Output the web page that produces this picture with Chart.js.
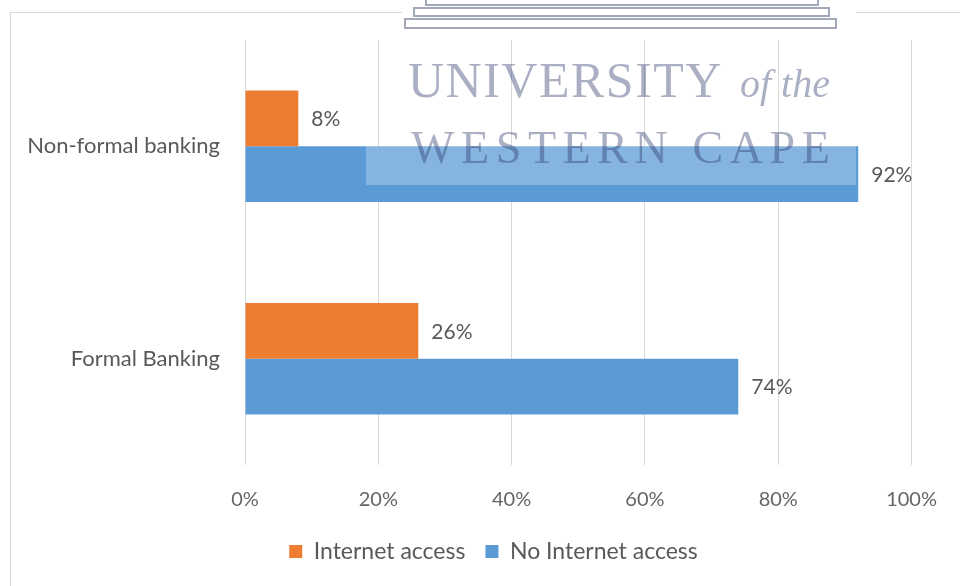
<!DOCTYPE html>
<html>
<head>
<meta charset="utf-8">
<script src="https://cdn.jsdelivr.net/npm/chart.js@4.4.1/dist/chart.umd.min.js"></script>
<style>
  html, body { margin: 0; padding: 0; background: #fff; }
  #wrap { width: 960px; height: 586px; position: relative; }
</style>
</head>
<body>
<div id="wrap"><canvas id="bankingChart" width="960" height="586"></canvas></div>
<script>
const categories = ['Non-formal banking', 'Formal Banking'];
const internetAccess = [8, 26];
const noInternetAccess = [92, 74];
const xTicks = [0, 20, 40, 60, 80, 100];

const orange = '#ED7D31';
const blue = '#5B9BD5';
const textGrey = '#595959';

// outer frame, watermark and the value labels next to each bar
const decorations = {
  id: 'decorations',
  afterLayout(chart) {
    // legend sits a little right of the plot centre
    chart.legend.left += 35;
    chart.legend.right += 35;
  },
  beforeDraw(chart) {
    const ctx = chart.ctx;
    ctx.save();
    ctx.strokeStyle = '#d9d9d9';
    ctx.lineWidth = 1;
    ctx.strokeRect(10.5, 12.5, 1200, 1000);
    ctx.restore();
  },
  afterDatasetsDraw(chart) {
    const ctx = chart.ctx;
    ctx.save();
    ctx.font = '21px Lato';
    ctx.fillStyle = textGrey;
    ctx.textAlign = 'left';
    ctx.textBaseline = 'middle';
    chart.data.datasets.forEach((ds, di) => {
      chart.getDatasetMeta(di).data.forEach((bar, i) => {
        ctx.fillText(ds.data[i] + '%', bar.x + 13, bar.y + 1);
      });
    });
    ctx.restore();
  },
  afterDraw(chart) {
    const ctx = chart.ctx;
    ctx.save();
    // crest steps
    ctx.fillStyle = '#fff';
    ctx.fillRect(402, 0, 454, 31);
    ctx.strokeStyle = '#a3a8bb';
    ctx.lineWidth = 2;
    ctx.strokeRect(426, -4, 392, 9);
    ctx.strokeRect(414, 8, 415, 8);
    ctx.strokeRect(405, 19, 431, 9);
    // highlight band over the long bar
    ctx.fillStyle = 'rgba(255,255,255,0.25)';
    ctx.fillRect(366, 146, 490, 39);
    ctx.fillStyle = 'rgba(45,55,105,0.4)';
    ctx.textBaseline = 'alphabetic';
    ctx.textAlign = 'left';
    ctx.font = '50px "Liberation Serif"';
    ctx.letterSpacing = '1.5px';
    ctx.fillText('UNIVERSITY', 408, 97);
    ctx.font = 'italic 40px "Liberation Serif"';
    ctx.letterSpacing = '0px';
    ctx.fillText('of the', 740, 97);
    ctx.font = '46px "Liberation Serif"';
    ctx.letterSpacing = '6.6px';
    ctx.fillText('WESTERN CAPE', 411, 163);
    ctx.restore();
  }
};

new Chart(document.getElementById('bankingChart'), {
  type: 'bar',
  data: {
    labels: categories,
    datasets: [
      {
        label: 'Internet access',
        data: internetAccess,
        backgroundColor: orange,
        borderWidth: 0,
        barPercentage: 1,
        categoryPercentage: 0.525
      },
      {
        label: 'No Internet access',
        data: noInternetAccess,
        backgroundColor: blue,
        borderWidth: 0,
        barPercentage: 1,
        categoryPercentage: 0.525
      }
    ]
  },
  options: {
    indexAxis: 'y',
    responsive: false,
    animation: false,
    layout: { padding: { top: 40, right: 43, bottom: 13, left: 0 } },
    scales: {
      x: {
        min: 0,
        max: 100,
        afterBuildTicks(scale) {
          scale.ticks = xTicks.map(v => ({ value: v }));
        },
        afterFit(scale) { scale.height = 55; },
        border: { display: false },
        grid: { color: '#d9d9d9', drawTicks: false },
        ticks: {
          padding: 23,
          color: '#666666',
          font: { family: 'Lato', size: 20 },
          callback: v => v + '%'
        }
      },
      y: {
        afterFit(scale) { scale.width = 245; },
        border: { display: false },
        grid: { display: false, drawTicks: false },
        ticks: {
          padding: 25,
          color: textGrey,
          font: { family: 'Lato', size: 22 }
        }
      }
    },
    plugins: {
      legend: {
        position: 'bottom',
        labels: {
          boxWidth: 13,
          boxHeight: 13,
          padding: 20,
          color: textGrey,
          font: { family: 'Lato', size: 23 }
        }
      },
      tooltip: { enabled: false }
    }
  },
  plugins: [decorations]
});
</script>
</body>
</html>
